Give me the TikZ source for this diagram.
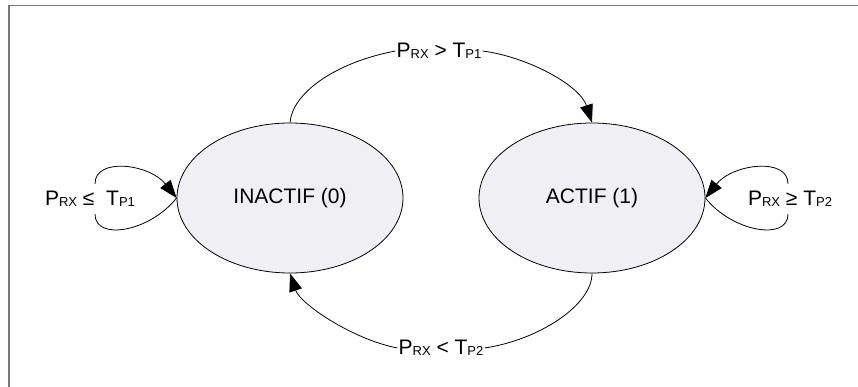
\documentclass[tikz,border=0pt]{standalone}
\usepackage{fontspec}
\setmainfont{Liberation Sans}
\usetikzlibrary{arrows.meta,shapes.geometric}
\definecolor{statefill}{RGB}{240,239,244}
\definecolor{framegray}{RGB}{120,120,120}
\newcommand\subtxt[1]{\raisebox{-1pt}{\fontsize{13}{13}\selectfont #1}}
\tikzset{
  statebox/.style={ellipse, draw=black, line width=0.8pt, fill=statefill,
    minimum width=226pt, minimum height=150pt, inner sep=0pt,
    font=\fontsize{21}{21}\selectfont},
  condlabel/.style={inner sep=1pt, font=\fontsize{21}{21}\selectfont},
  looplabel/.style={inner sep=0pt, minimum height=30pt, font=\fontsize{21}{21}\selectfont},
  link/.style={line width=0.8pt, draw=black},
  tip/.style={-{Triangle[length=18pt,width=13pt]}}
}
\begin{document}
\begin{tikzpicture}[x=1pt,y=-1pt]
\useasboundingbox (0,0) rectangle (858,387);
% frame
\draw[framegray, line width=1.2pt] (9,387) -- (9,5.6) -- (858,5.6);
% states
\node[statebox] (inact) at (290,198) {INACTIF (0)};
\node[statebox] (act) at (592,198) {ACTIF (1)};
% labels
\node[condlabel] (ltop) at (439,51) {P\subtxt{RX} > T\subtxt{P1}};
\node[condlabel] (lbot) at (441,348) {P\subtxt{RX} < T\subtxt{P2}};
\node[looplabel] (lleft) at (90,199) {P\subtxt{RX} ≤\ \ T\subtxt{P1}};
\node[looplabel] (lright) at (790,199) {P\subtxt{RX} ≥ T\subtxt{P2}};
% top transition
\draw[link] (inact.north) .. controls +(2,-28) and +(-63,12) .. (ltop.west);
\draw[link,tip] (ltop.east) .. controls +(46,6) and +(-12,-37) .. (act.north);
% bottom transition
\draw[link] (act.south) .. controls +(0,32) and +(54,-8) .. (lbot.east);
\draw[link,tip] (lbot.west) .. controls +(-46,-9) and +(10,30) .. (inact.south);
% left self loop
\draw[link] (inact.west) .. controls +(-27,34) and +(0,27) .. ([xshift=5]lleft.south);
\draw[link,tip] ([xshift=5]lleft.north) .. controls +(0,-27) and +(-27,-34) .. (inact.west);
% right self loop
\draw[link] (act.east) .. controls +(27,34) and +(0,27) .. ([xshift=-2]lright.south);
\draw[link,tip] ([xshift=-2]lright.north) .. controls +(0,-27) and +(27,-34) .. (act.east);
\end{tikzpicture}
\end{document}
